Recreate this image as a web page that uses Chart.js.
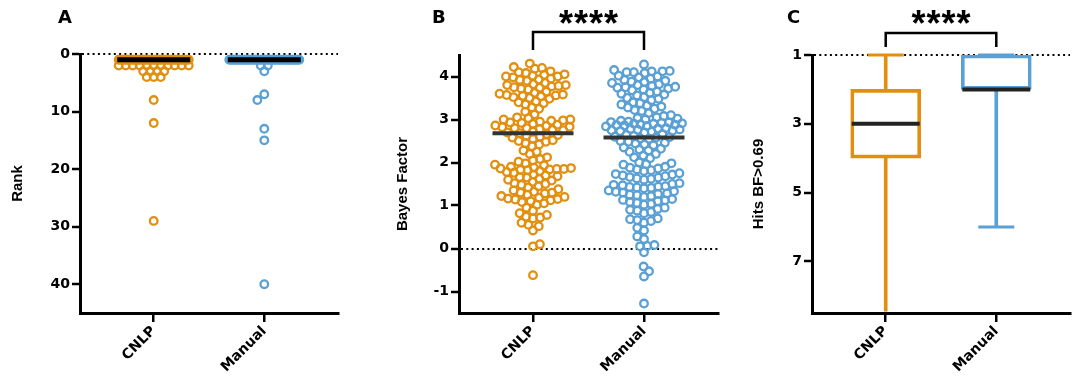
<!DOCTYPE html>
<html><head><meta charset="utf-8">
<script src="https://cdn.jsdelivr.net/npm/chart.js@4.4.1/dist/chart.umd.min.js"></script>
<style>
html,body{margin:0;padding:0;background:#fff;}
#wrap{position:relative;width:1080px;height:381px;overflow:hidden;}
canvas{position:absolute;top:0;}
</style></head>
<body><div id="wrap">
<canvas id="cA" width="360" height="381" style="left:0px"></canvas>
<canvas id="cB" width="360" height="381" style="left:360px"></canvas>
<canvas id="cC" width="360" height="381" style="left:720px"></canvas>
</div>
<script>
// ---------------- data ----------------
const categories = ['CNLP', 'Manual'];

// Panel A: rank
const rankTicks = [0, 10, 20, 30, 40];
const rankCNLP = [1,1,1,1,1,1,1,1,1,1, 1,1,1,1,1,1,1,1,1,1, 1,1,1,1,1,1,1,1,1,1, 1,1,1,1,1,1,1,1,1,1,
  2,2,2,2,2,2,2,2,2,2,2, 3,3,3,3, 4,4,4, 8, 12, 29];
const rankManual = [1,1,1,1,1,1,1,1,1,1, 1,1,1,1,1,1,1,1,1,1, 1,1,1,1,1,1,1,1,1,1, 1,1,1,1,1,1,1,1,1,1,
  2,2, 3, 7, 8, 13, 15, 40];
const rankMedians = [1, 1];

// Panel B: Bayes factor
const bfTicks = [-1, 0, 1, 2, 3, 4];
const bfCNLP = [4.30, 4.22, 4.20, 4.18, 4.12, 4.10, 4.08, 4.05, 4.04, 4.02, 4.00, 4.00, 3.98, 3.95, 3.93, 3.92, 3.90,
  3.85, 3.82, 3.80, 3.80, 3.78, 3.77, 3.75, 3.74, 3.72, 3.70, 3.65, 3.62, 3.60, 3.58, 3.57, 3.56, 3.55, 3.54, 3.52,
  3.50, 3.48, 3.42, 3.40, 3.38, 3.35, 3.28, 3.25, 3.18, 3.12, 3.05, 3.03, 3.00, 3.00, 2.98, 2.97, 2.95, 2.93, 2.92,
  2.90, 2.88, 2.86, 2.85, 2.83, 2.82, 2.80, 2.80, 2.78, 2.76, 2.75, 2.72, 2.70, 2.68, 2.66, 2.64, 2.62, 2.60, 2.58,
  2.55, 2.52, 2.50, 2.48, 2.45, 2.42, 2.38, 2.28, 2.25, 2.20, 2.12, 2.08, 2.05, 2.02, 1.98, 1.95, 1.93, 1.90, 1.88,
  1.87, 1.86, 1.85, 1.85, 1.84, 1.83, 1.82, 1.80, 1.78, 1.76, 1.72, 1.70, 1.68, 1.66, 1.65, 1.62, 1.60, 1.58, 1.55,
  1.52, 1.50, 1.48, 1.45, 1.42, 1.38, 1.35, 1.32, 1.30, 1.30, 1.28, 1.25, 1.22, 1.20, 1.18, 1.16, 1.15, 1.14, 1.12,
  1.10, 1.08, 1.05, 1.02, 0.95, 0.88, 0.82, 0.78, 0.74, 0.72, 0.70, 0.60, 0.55, 0.52, 0.42, 0.10, 0.05, -0.62];
const bfManual = [4.28, 4.15, 4.13, 4.12, 4.12, 4.10, 4.10, 4.08, 4.02, 4.00, 3.98, 3.95, 3.92, 3.90, 3.88, 3.87,
  3.85, 3.82, 3.80, 3.78, 3.76, 3.75, 3.74, 3.72, 3.70, 3.68, 3.65, 3.62, 3.60, 3.58, 3.56, 3.52, 3.50, 3.48, 3.45,
  3.40, 3.38, 3.35, 3.32, 3.30, 3.28, 3.25, 3.22, 3.20, 3.15, 3.10, 3.08, 3.05, 3.03, 3.02, 3.00, 2.97, 2.95, 2.94,
  2.93, 2.92, 2.91, 2.90, 2.90, 2.89, 2.88, 2.87, 2.86, 2.85, 2.84, 2.80, 2.79, 2.78, 2.77, 2.76, 2.75, 2.74, 2.73,
  2.72, 2.70, 2.66, 2.64, 2.62, 2.60, 2.59, 2.58, 2.56, 2.55, 2.50, 2.48, 2.46, 2.44, 2.42, 2.40, 2.35, 2.32, 2.30,
  2.28, 2.25, 2.20, 2.16, 2.12, 2.10, 2.00, 1.98, 1.96, 1.95, 1.90, 1.88, 1.86, 1.84, 1.82, 1.80, 1.75, 1.73, 1.72,
  1.70, 1.68, 1.66, 1.65, 1.63, 1.62, 1.60, 1.52, 1.50, 1.48, 1.47, 1.45, 1.44, 1.43, 1.42, 1.41, 1.40, 1.35, 1.33,
  1.32, 1.30, 1.28, 1.27, 1.25, 1.24, 1.22, 1.20, 1.15, 1.13, 1.12, 1.10, 1.08, 1.06, 1.04, 1.02, 0.95, 0.92, 0.90,
  0.88, 0.85, 0.82, 0.70, 0.68, 0.66, 0.64, 0.60, 0.48, 0.42, 0.28, 0.22, 0.08, 0.06, 0.05, -0.09, -0.42, -0.53,
  -0.65, -1.28];
const bfMedians = [2.68, 2.58];

// Panel C: hits with BF > 0.69 (box and whiskers)
const hitsTicks = [1, 3, 5, 7];
const hitsMin = [1, 1];
const hitsQ1 = [2, 1];
const hitsMedian = [3, 2];
const hitsQ3 = [4, 2];
const hitsMax = [9, 6];

// ---------------- styles ----------------
const ORANGE = '#E28F10';
const BLUE = '#5AA0D4';
const COLORS = [ORANGE, BLUE];
const TICK_FONT = '"DejaVu Sans", Verdana, sans-serif';
const TITLE_FONT = '"Liberation Sans", Arial, Helvetica, sans-serif';
const X_MIN = 1 / 3, X_MAX = 8 / 3;
const catX = categories.map((c, i) => i + 1);

function makeScales(cfg) {
  const tickFont = {family: TICK_FONT, size: 14, weight: 'bold'};
  return {
    x: {
      type: 'linear', min: X_MIN, max: X_MAX, offset: false,
      afterBuildTicks: s => { s.ticks = catX.map(v => ({value: v})); },
      afterFit: s => { s.height = cfg.xHeight; s.paddingLeft = 0; s.paddingRight = 0; },
      ticks: {autoSkip: false, minRotation: 45, maxRotation: 45, color: '#000', font: tickFont, padding: 1,
        callback: v => categories[Math.round(v) - 1]},
      grid: {offset: false, drawOnChartArea: false, color: '#000', tickColor: '#000', tickLength: 9, tickWidth: 2.5, lineWidth: 2.5},
      border: {color: '#000', width: 3}
    },
    y: {
      type: 'linear', min: cfg.yMin, max: cfg.yMax, reverse: !!cfg.reverse,
      afterBuildTicks: s => { s.ticks = cfg.ticks.map(v => ({value: v})); },
      afterFit: s => { s.width = cfg.yWidth; s.paddingTop = 0; s.paddingBottom = 0; },
      ticks: {color: '#000', font: tickFont, padding: 2},
      grid: {color: c => (c.tick && c.tick.value === cfg.ref) ? '#000' : 'rgba(0,0,0,0)', lineWidth: 2,
        tickColor: '#000', tickLength: 8, tickWidth: 2.5},
      border: {color: '#000', width: 3, dash: [2, 3.3]},
      title: {display: true, text: cfg.title, color: '#000', font: {family: TITLE_FONT, size: 15, weight: 'bold'},
        padding: {top: cfg.titlePad, bottom: 0}}
    }
  };
}

const annot = {
  id: 'annot',
  afterDraw(chart, args, o) {
    const ctx = chart.ctx;
    ctx.save();
    ctx.fillStyle = '#000';
    ctx.font = 'bold 18px ' + TICK_FONT;
    ctx.textBaseline = 'alphabetic';
    ctx.textAlign = 'left';
    ctx.fillText(o.letter, o.letterX, 23);
    if (o.stars) {
      const x1 = chart.scales.x.getPixelForValue(catX[0]);
      const x2 = chart.scales.x.getPixelForValue(catX[1]);
      ctx.strokeStyle = '#000';
      ctx.lineWidth = 2.5;
      ctx.lineJoin = 'miter';
      ctx.beginPath();
      ctx.moveTo(x1, o.legY); ctx.lineTo(x1, o.barY); ctx.lineTo(x2, o.barY); ctx.lineTo(x2, o.legY);
      ctx.stroke();
      ctx.font = 'bold 36px ' + TITLE_FONT;
      ctx.textAlign = 'center';
      try { ctx.letterSpacing = '1px'; } catch (e) {}
      ctx.fillText(o.stars, (x1 + x2) / 2 + 0.5, 36);
    }
    ctx.restore();
  }
};

const baseOpts = (scales, pad, annotOpts) => ({
  responsive: false, animation: false, events: [],
  layout: {padding: pad, autoPadding: false},
  plugins: {legend: {display: false}, tooltip: {enabled: false}, annot: annotOpts},
  scales
});

function pointDs(values, ci, order) {
  return {
    type: 'scatter', order,
    data: values.map(v => ({x: catX[ci], y: v})),
    pointRadius: 3.8, pointBorderWidth: 2.3, pointBorderColor: COLORS[ci],
    pointBackgroundColor: 'rgba(255,255,255,0)', showLine: false
  };
}
function lineMarkDs(xs, ys, half, width, color, order, clip) {
  const d = {
    type: 'scatter', order,
    data: xs.map((x, i) => ({x, y: ys[i]})),
    pointStyle: 'line', pointRadius: half, pointBorderWidth: width,
    pointBorderColor: color, pointBackgroundColor: color, showLine: false
  };
  if (clip !== undefined) d.clip = clip;
  return d;
}

// --------- swarm layout (pixel space) ---------
function swarm(values, yScale, D, maxHalf) {
  const idx = values.map((v, i) => i).sort((a, b) => values[a] - values[b]);
  const placed = [];
  const offs = new Array(values.length).fill(0);
  idx.forEach((i, k) => {
    const y = yScale.getPixelForValue(values[i]);
    const near = placed.filter(p => Math.abs(p.y - y) < D);
    const cands = [0];
    near.forEach(p => { const dx = Math.sqrt(D * D - (p.y - y) ** 2); cands.push(p.x + dx, p.x - dx); });
    const ok = x => near.every(p => (p.x - x) ** 2 + (p.y - y) ** 2 >= D * D - 0.01);
    let best = null;
    cands.forEach(c => {
      if (Math.abs(c) <= maxHalf && ok(c)) {
        if (best === null || Math.abs(c) < Math.abs(best) - 1e-6 ||
            (Math.abs(Math.abs(c) - Math.abs(best)) < 1e-6 && (k % 2 ? c < best : c > best))) best = c;
      }
    });
    if (best === null) {
      let bd = -1;
      for (let x = -maxHalf; x <= maxHalf; x += 0.5) {
        let md = Infinity;
        near.forEach(p => { md = Math.min(md, Math.hypot(p.x - x, p.y - y)); });
        if (md > bd) { bd = md; best = x; }
      }
    }
    placed.push({x: best, y});
    offs[i] = best;
  });
  return offs;
}
function rowsThenSwarm(values, yScale, D, maxHalf) {
  const groups = {};
  values.forEach((v, i) => { (groups[v] = groups[v] || []).push(i); });
  const offs = new Array(values.length).fill(0);
  const singles = [];
  Object.keys(groups).forEach(k => {
    const g = groups[k];
    if (g.length === 1) { singles.push(g[0]); return; }
    const s = Math.min(D, 2 * maxHalf / (g.length - 1));
    g.forEach((i, j) => { offs[i] = (j - (g.length - 1) / 2) * s; });
  });
  const sv = singles.map(i => values[i]);
  const so = swarm(sv, yScale, 9, maxHalf);
  singles.forEach((i, j) => { offs[i] = -so[j]; });
  return offs;
}
function applySwarm(chart, dsIndex, values, ci, fn) {
  const xs = chart.scales.x, ys = chart.scales.y;
  const ppu = xs.getPixelForValue(2) - xs.getPixelForValue(1);
  const offs = fn(values, ys);
  chart.data.datasets[dsIndex].data = values.map((v, i) => ({x: catX[ci] + offs[i] / ppu, y: v}));
}

// ---------------- Panel A ----------------
const chartA = new Chart(document.getElementById('cA'), {
  type: 'scatter',
  plugins: [annot],
  data: {datasets: [
    pointDs(rankCNLP, 0, 2),
    pointDs(rankManual, 1, 2),
    lineMarkDs(catX, rankMedians, 36.5, 5, '#000', 0)
  ]},
  options: baseOpts(
    makeScales({yMin: 0, yMax: 45, reverse: true, ticks: rankTicks, ref: 0, title: 'Rank', titlePad: 8.5, yWidth: 80, xHeight: 68}),
    {top: 54, right: 22, bottom: 0, left: 0},
    {letter: 'A', letterX: 58})
});
applySwarm(chartA, 0, rankCNLP, 0, (v, y) => rowsThenSwarm(v, y, 7, 35));
applySwarm(chartA, 1, rankManual, 1, (v, y) => rowsThenSwarm(v, y, 7, 35));
chartA.update('none');

// ---------------- Panel B ----------------
const chartB = new Chart(document.getElementById('cB'), {
  type: 'scatter',
  plugins: [annot],
  data: {datasets: [
    pointDs(bfCNLP, 0, 2),
    pointDs(bfManual, 1, 2),
    lineMarkDs(catX, bfMedians, 40.5, 4, '#333', 0)
  ]},
  options: baseOpts(
    makeScales({yMin: -1.5, yMax: 4.5, reverse: false, ticks: bfTicks, ref: 0, title: 'Bayes Factor', titlePad: 33.5, yWidth: 99, xHeight: 68}),
    {top: 55, right: 2, bottom: 0, left: 0},
    {letter: 'B', letterX: 72, stars: '****', barY: 32, legY: 50})
});
applySwarm(chartB, 0, bfCNLP, 0, (v, y) => swarm(v, y, 7.2, 38));
applySwarm(chartB, 1, bfManual, 1, (v, y) => swarm(v, y, 7.2, 38));
chartB.update('none');

// ---------------- Panel C ----------------
const chartC = new Chart(document.getElementById('cC'), {
  type: 'scatter',
  plugins: [annot],
  data: {datasets: [
    {type: 'bar', order: 3, grouped: false, barThickness: 70, borderSkipped: false, borderWidth: 3,
     data: catX.map((x, i) => ({x, y: [hitsQ1[i], hitsQ3[i]]})),
     backgroundColor: 'rgba(255,255,255,0)', borderColor: COLORS, clip: 0},
    {type: 'bar', order: 4, grouped: false, barThickness: 3, borderWidth: 0,
     data: catX.map((x, i) => ({x, y: [hitsQ3[i], hitsMax[i]]})),
     backgroundColor: COLORS, clip: {left: 0, right: 0, top: 0, bottom: -1.5}},
    {type: 'bar', order: 4, grouped: false, barThickness: 3, borderWidth: 0,
     data: catX.map((x, i) => ({x, y: [hitsMin[i], hitsQ1[i]]})),
     backgroundColor: COLORS, clip: {left: 0, right: 0, top: 0, bottom: 0}},
    lineMarkDs(catX, hitsMin, 18, 3, COLORS, 2, {left: 0, right: 0, top: 3, bottom: 0}),
    lineMarkDs(catX, hitsMax, 18, 3, COLORS, 2, {left: 0, right: 0, top: 3, bottom: 0}),
    lineMarkDs(catX, hitsMedian, 34, 4, '#222', 0)
  ]},
  options: baseOpts(
    makeScales({yMin: 1, yMax: 8.5, reverse: true, ticks: hitsTicks, ref: 1, title: 'Hits BF>0.69', titlePad: 29.5, yWidth: 92, xHeight: 68}),
    {top: 55, right: 10, bottom: 0, left: 0},
    {letter: 'C', letterX: 67, stars: '****', barY: 33, legY: 47})
});
</script>
</body></html>
